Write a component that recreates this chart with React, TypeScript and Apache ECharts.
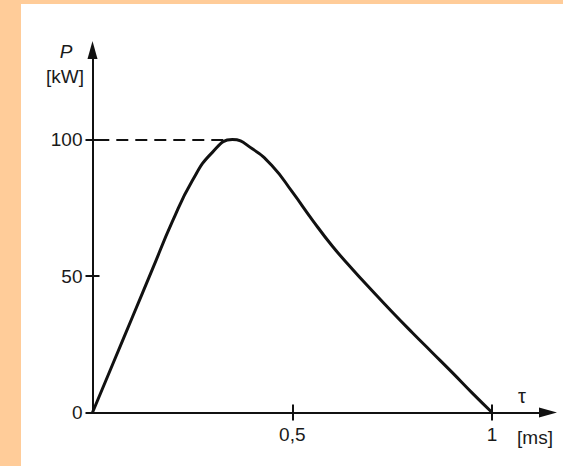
import React, { useEffect, useRef } from "react";
import * as echarts from "echarts";

// Pulse duration τ [ms] and power P [kW]
const tau = [0, 0.05, 0.1, 0.15, 0.2, 0.25, 0.3, 0.35, 0.4, 0.45, 0.5, 0.55, 0.6, 0.65, 0.7, 0.75, 0.8, 0.85, 0.9, 0.95, 1.0];
const power = [0, 17.5, 35, 52.5, 70, 85, 95.3, 100, 96.6, 90.3, 80.8, 70.6, 61, 52.6, 44.6, 36.8, 29.3, 22.0, 14.7, 7.2, 0];

const peakTau = 0.35;
const peakPower = 100;

const xTickValues = [0.5, 1];
const yTickValues = [0, 50, 100];

const FONT = "'Liberation Sans', Arial, sans-serif";
const INK = "#111";

export default function App() {
  const ref = useRef<HTMLDivElement>(null);

  useEffect(() => {
    if (!ref.current) return;
    const chart = echarts.init(ref.current, undefined, { renderer: "svg" });

    const xMin = 0;
    const xMax = 1.14;
    const yMin = 0;
    const yMax = 132.8;

    const xBase = {
      type: "value" as const,
      min: xMin,
      max: xMax,
      position: "bottom" as const,
      splitLine: { show: false },
    };
    const yBase = {
      type: "value" as const,
      min: yMin,
      max: yMax,
      position: "left" as const,
      splitLine: { show: false },
    };

    chart.setOption({
      animation: false,
      backgroundColor: "#ffffff",
      grid: { left: 92.5, right: 15, top: 50, bottom: 53.5, containLabel: false },
      xAxis: [
        {
          ...xBase,
          axisLine: {
            show: true,
            onZero: false,
            symbol: ["none", "triangle"],
            symbolSize: [10, 18],
            lineStyle: { color: INK, width: 2 },
          },
          axisTick: { show: true, inside: false, length: 8, customValues: xTickValues, lineStyle: { color: INK, width: 2 } },
          axisLabel: {
            show: true,
            customValues: xTickValues,
            margin: 12,
            color: "#1a1a1a",
            fontFamily: FONT,
            fontSize: 19,
            formatter: (v: number) => (v === 0.5 ? "0,5" : String(v)),
          },
        },
        {
          ...xBase,
          axisLine: { show: false },
          axisTick: { show: true, inside: true, length: 8, customValues: xTickValues, lineStyle: { color: INK, width: 2 } },
          axisLabel: { show: false },
        },
      ],
      yAxis: [
        {
          ...yBase,
          axisLine: {
            show: true,
            onZero: false,
            symbol: ["none", "triangle"],
            symbolSize: [10, 18],
            lineStyle: { color: INK, width: 2 },
          },
          axisTick: { show: true, inside: false, length: 7, customValues: yTickValues, lineStyle: { color: INK, width: 2 } },
          axisLabel: {
            show: true,
            customValues: yTickValues,
            margin: 10,
            color: "#1a1a1a",
            fontFamily: FONT,
            fontSize: 19,
          },
        },
        {
          ...yBase,
          axisLine: { show: false },
          axisTick: { show: true, inside: true, length: 7, customValues: yTickValues, lineStyle: { color: INK, width: 2 } },
          axisLabel: { show: false },
        },
      ],
      series: [
        {
          type: "line",
          xAxisIndex: 0,
          yAxisIndex: 0,
          data: tau.map((t, i) => [t, power[i]]),
          smooth: 0.5,
          showSymbol: false,
          symbol: "none",
          lineStyle: { color: INK, width: 3 },
          markLine: {
            silent: true,
            symbol: ["none", "none"],
            label: { show: false },
            lineStyle: { color: INK, width: 2, type: [12, 7] },
            data: [[{ coord: [0.012, peakPower] }, { coord: [peakTau, peakPower] }]],
          },
        },
      ],
      graphic: [
        { type: "rect", shape: { x: 0, y: 0, width: 21, height: 466 }, style: { fill: "#FFCC99" }, silent: true },
        { type: "rect", shape: { x: 0, y: 0, width: 563, height: 4 }, style: { fill: "#FFCC99" }, silent: true },
        {
          type: "text",
          x: 66,
          y: 51,
          style: { text: "P", font: `italic 19px ${FONT}`, fill: "#1a1a1a", align: "center", verticalAlign: "middle" },
        },
        {
          type: "text",
          x: 65,
          y: 76,
          style: { text: "[kW]", font: `19px ${FONT}`, fill: "#1a1a1a", align: "center", verticalAlign: "middle" },
        },
        {
          type: "text",
          x: 522,
          y: 396,
          style: { text: "τ", font: `20px ${FONT}`, fill: "#1a1a1a", align: "center", verticalAlign: "middle" },
        },
        {
          type: "text",
          x: 535,
          y: 437,
          style: { text: "[ms]", font: `19px ${FONT}`, fill: "#1a1a1a", align: "center", verticalAlign: "middle" },
        },
      ],
    });

    return () => chart.dispose();
  }, []);

  return (
    <div style={{ position: "fixed", left: 0, top: 0, width: 563, height: 466 }}>
      <div ref={ref} style={{ width: 563, height: 466 }} />
    </div>
  );
}
